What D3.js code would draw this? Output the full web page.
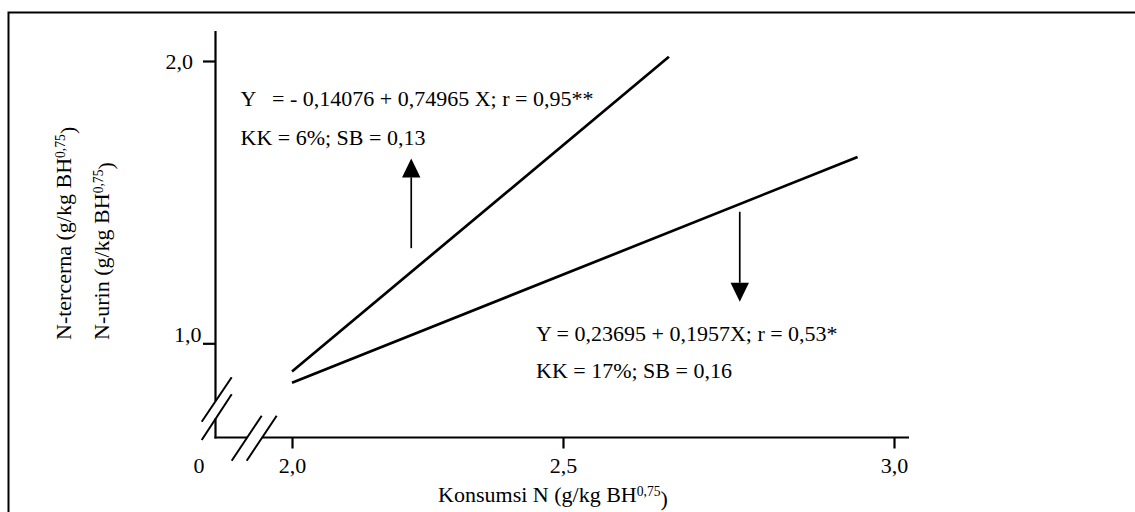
<!DOCTYPE html>
<html>
<head>
<meta charset="utf-8">
<script src="https://cdn.jsdelivr.net/npm/d3@7"></script>
<style>
    body { margin: 0; background: #fff; }
    svg text { font-family: "Liberation Serif", "Times New Roman", serif; font-size: 22px; fill: #000; }
</style>
</head>
<body>
<svg id="chart" width="1135" height="512"></svg>
<script>
// values
const xTicks = [2.0, 2.5, 3.0]
const xTickLabels = ["2,0", "2,5", "3,0"]
const yTicks = [1.0, 2.0]
const yTickLabels = ["1,0", "2,0"]

// regression lines (start / end of each drawn segment)
const tercernaX = [2.0, 2.66]
const tercernaY = [0.90, 2.015]
const urinX = [2.0, 2.945]
const urinY = [0.86, 1.66]

// arrows pointing from each line to its equation
const arrowX = [2.22, 2.767]
const arrowFromY = [1.337, 1.466]
const arrowToY = [1.655, 1.147]

const tercernaText = ["Y   = - 0,14076 + 0,74965 X; r = 0,95**", "KK = 6%; SB = 0,13"]
const urinText = ["Y = 0,23695 + 0,1957X; r = 0,53*", "KK = 17%; SB = 0,16"]

const yLabels = ["N-tercerna", "N-urin"]
const xLabelText = "Konsumsi N"

const svg = d3.select("#chart")

// the drawing is not evenly spaced along x, so the scale follows the ticks
const x = d3.scaleLinear().domain(xTicks).range([292, 563, 894])
const y = d3.scaleLinear().domain([1.0, 2.0]).range([343.3, 61])

const ox = 215.5, oy = 437.5
const yTop = 31, xEnd = 909

// frame (cut off at right and bottom)
svg.append("path")
    .attr("d", "M8.5,512V12.5H1135")
    .attr("fill", "none")
    .attr("stroke", "#000")
    .attr("stroke-width", 2)

// axis lines with breaks
const axisLine = (x1, y1, x2, y2) => svg.append("line")
    .attr("x1", x1).attr("y1", y1).attr("x2", x2).attr("y2", y2)
    .attr("stroke", "#000").attr("stroke-width", 2.2)

axisLine(ox, yTop, ox, 401)
axisLine(ox, 418.5, ox, oy + 1)
axisLine(ox - 1, oy, 247, oy)
axisLine(262, oy, xEnd, oy)

// break marks
const breaks = [
    [201.7, 421.7, 231.7, 377.3],
    [201.7, 440, 231.7, 394.3],
    [231.7, 460.7, 261.7, 415.7],
    [246.7, 460.7, 276.7, 415.7]
]
breaks.forEach(b => axisLine(b[0], b[1], b[2], b[3]).attr("stroke-width", 2))

// x axis ticks
const xAxis = svg.append("g")
    .attr("transform", `translate(0,${oy})`)
    .call(d3.axisBottom(x).tickValues(xTicks).tickSize(11).tickPadding(9)
        .tickFormat((d, i) => xTickLabels[i]))
xAxis.select(".domain").remove()
xAxis.selectAll(".tick line").attr("stroke-width", 2.2)
xAxis.selectAll(".tick text").attr("font-size", null).attr("font-family", null)

// y axis ticks
const yAxis = svg.append("g")
    .attr("transform", `translate(${ox},0)`)
    .call(d3.axisLeft(y).tickValues(yTicks).tickSize(12.5).tickPadding(10)
        .tickFormat((d, i) => yTickLabels[i]))
yAxis.select(".domain").remove()
yAxis.selectAll(".tick line").attr("stroke-width", 2.2)
yAxis.selectAll(".tick text").attr("font-size", null).attr("font-family", null)
// the lower label sits on its tick in the original
yAxis.selectAll(".tick text").filter(d => d === 1.0)
    .attr("x", -14).attr("dy", "-0.1em")

// origin label
svg.append("text")
    .attr("x", 199).attr("y", 473)
    .attr("text-anchor", "middle")
    .text("0")

// regression lines
const line = d3.line().x(d => x(d[0])).y(d => y(d[1]))
const lines = [d3.zip(tercernaX, tercernaY), d3.zip(urinX, urinY)]
svg.selectAll("path.reg")
    .data(lines)
    .enter()
    .append("path")
    .attr("class", "reg")
    .attr("d", line)
    .attr("fill", "none")
    .attr("stroke", "#000")
    .attr("stroke-width", 2.7)

// arrows
arrowX.forEach((ax, i) => {
    const px = x(ax)
    const y0 = y(arrowFromY[i]), y1 = y(arrowToY[i])
    const dir = y1 < y0 ? -1 : 1
    const head = 19, half = 9.2
    svg.append("line")
        .attr("x1", px).attr("y1", y0)
        .attr("x2", px).attr("y2", y1 - dir * head)
        .attr("stroke", "#000").attr("stroke-width", 1.7)
    svg.append("path")
        .attr("d", `M${px},${y1}L${px - half},${y1 - dir * head}L${px + half},${y1 - dir * head}Z`)
        .attr("fill", "#000")
})

// equations
const addBlock = (rows, x0, y0, step) => {
    svg.selectAll(null)
        .data(rows)
        .enter()
        .append("text")
        .attr("x", x0)
        .attr("y", (d, i) => y0 + i * step)
        .style("white-space", "pre")
        .text(d => d)
}
addBlock(tercernaText, 240.5, 106, 39)
addBlock(urinText, 536, 341, 37)

// label with superscript exponent
const labelWithExp = (sel, base) => {
    sel.append("tspan").text(base + " (g/kg BH")
    sel.append("tspan").attr("dy", "-0.45em").attr("font-size", "0.62em").text("0,75")
    sel.append("tspan").attr("dy", "0.45em").text(")")
}

const xLabel = svg.append("text")
    .attr("x", 553).attr("y", 502)
    .attr("text-anchor", "middle")
labelWithExp(xLabel, xLabelText)

const yLabelX = [71, 109]
yLabels.forEach((lbl, i) => {
    const t = svg.append("text")
        .attr("transform", `translate(${yLabelX[i]},340) rotate(-90)`)
    labelWithExp(t, lbl)
})
</script>
</body>
</html>
